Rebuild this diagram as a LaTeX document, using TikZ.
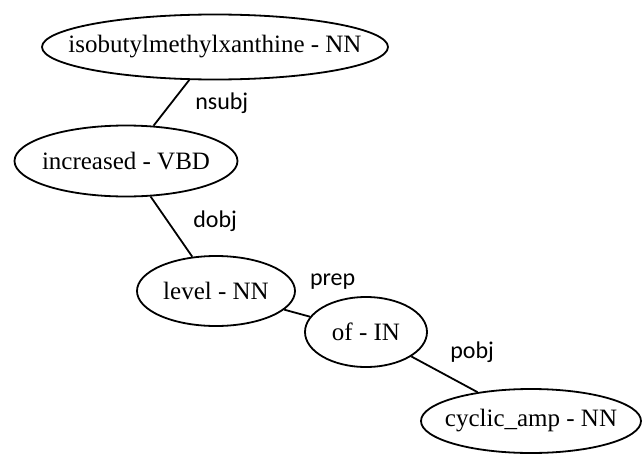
\documentclass[tikz,border=0pt]{standalone}
\usepackage{fontspec}
\setmainfont{Liberation Serif}
\newfontfamily\lblfont{Carlito}
\usetikzlibrary{positioning, shapes.geometric}

\begin{document}
\begin{tikzpicture}[
        x=1pt, y=-1pt,
        tok/.style={draw, ellipse, line width=1.8pt, inner sep=0pt, font=\fontsize{25}{29}\selectfont,
            execute at begin node={\hbox to 0pt\bgroup\hss}, execute at end node={\hss\egroup}},
        edge/.style={line width=1.8pt},
        lbl/.style={font=\lblfont\fontsize{24}{28}\selectfont, inner sep=2pt}
    ]
    \useasboundingbox (0,0) rectangle (643,455);
    % Nodes
    \node[tok, minimum width=346pt, minimum height=65pt] (iso) at (215,47) {isobutylmethylxanthine - NN};
    \node[tok, minimum width=223pt, minimum height=71pt] (inc) at (126,161) {increased - VBD};
    \node[tok, minimum width=158pt, minimum height=70pt] (level) at (216,291) {level - NN};
    \node[tok, minimum width=122pt, minimum height=70pt] (of) at (366,332) {of - IN};
    \node[tok, minimum width=220pt, minimum height=64pt] (camp) at (531,421) {cyclic\_amp - NN};

    % Dependency edges
    \draw[edge] (iso) -- node[lbl, right=21pt] {nsubj} (inc);
    \draw[edge] (inc) -- node[lbl, right=19pt, yshift=5pt] {dobj} (level);
    \draw[edge] (level) -- node[lbl, above right=21pt and 10pt] {prep} (of);
    \draw[edge] (of) -- node[lbl, above right=9pt and 3pt] {pobj} (camp);
\end{tikzpicture}
\end{document}
